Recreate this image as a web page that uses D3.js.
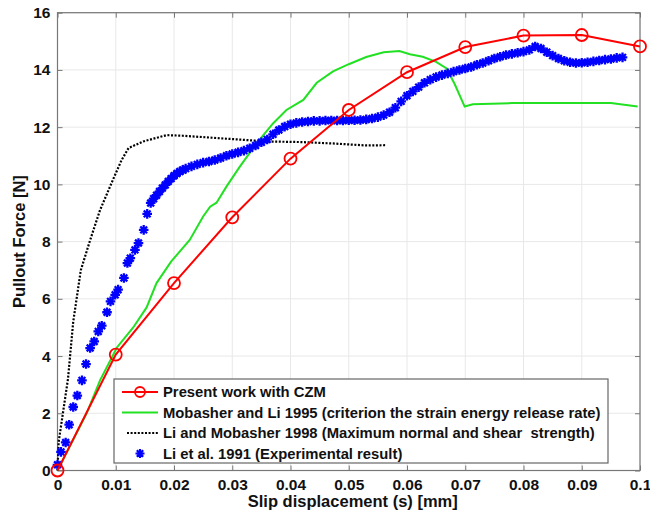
<!DOCTYPE html>
<html><head><meta charset="utf-8">
<script src="https://cdn.jsdelivr.net/npm/d3@7"></script>
<style>body{margin:0;background:#fff}svg{display:block}text{font-family:"Liberation Sans",Arial,sans-serif;font-weight:bold}</style>
</head><body><svg id="c" width="650" height="513"></svg>
<script>
const xTicks = [0,0.01,0.02,0.03,0.04,0.05,0.06,0.07,0.08,0.09,0.1];
const xTickLabels = ["0","0.01","0.02","0.03","0.04","0.05","0.06","0.07","0.08","0.09","0.1"];
const yTicks = [0,2,4,6,8,10,12,14,16];

const czmX = [0,0.01,0.02,0.03,0.04,0.05,0.06,0.07,0.08,0.09,0.1];
const czmY = [0,4.05,6.55,8.85,10.9,12.6,13.92,14.8,15.2,15.22,14.82];

const mobX = [0,0.002,0.005,0.0073,0.0102,0.013,0.0153,0.017,0.0195,0.0227,0.025,0.0262,0.0273,0.029,0.0313,0.0342,0.037,0.0393,0.0422,0.0445,0.0473,0.050,0.053,0.056,0.0587,0.0605,0.0627,0.065,0.0668,0.0682,0.0699,0.0713,0.078,0.095,0.0996];
const mobY = [0,0.8,2.0,3.15,4.3,5.0,5.7,6.55,7.3,8.06,8.88,9.22,9.36,9.92,10.62,11.44,12.13,12.6,12.95,13.55,13.95,14.2,14.45,14.62,14.66,14.55,14.46,14.28,14.05,13.5,12.72,12.8,12.84,12.84,12.72];

const lmX = [0,0.0002,0.001,0.0018,0.0027,0.004,0.0056,0.0073,0.0096,0.011,0.0122,0.0147,0.0187,0.0215,0.0244,0.0302,0.0359,0.0416,0.0473,0.053,0.0565];
const lmY = [0,1.0,2.1,3.2,5.2,7.0,8.05,9.1,10.2,10.85,11.27,11.5,11.72,11.7,11.66,11.58,11.5,11.48,11.43,11.36,11.37];

const expX = [0,0.0006,0.0014,0.002,0.0027,0.0034,0.0042,0.0049,0.0056,0.0063,0.007,0.0076,0.0085,0.0091,0.0099,0.0104,0.0114,0.012,0.0125,0.0133,0.0139,0.0148,0.0154,0.016,0.0165,0.017,0.0175,0.018,0.0185,0.019,0.0195,0.02,0.0205,0.021,0.0215,0.022,0.023,0.024,0.025,0.026,0.027,0.028,0.029,0.03,0.031,0.032,0.033,0.034,0.035,0.036,0.037,0.038,0.039,0.04,0.041,0.042,0.043,0.044,0.045,0.046,0.047,0.048,0.049,0.05,0.051,0.052,0.053,0.054,0.055,0.056,0.057,0.058,0.059,0.06,0.061,0.062,0.063,0.064,0.065,0.066,0.067,0.068,0.069,0.07,0.071,0.072,0.073,0.074,0.075,0.076,0.077,0.078,0.079,0.08,0.081,0.082,0.083,0.084,0.085,0.086,0.087,0.088,0.089,0.09,0.091,0.092,0.093,0.094,0.095,0.096,0.097];
const expY = [0.2,0.65,0.98,1.6,2.22,2.62,3.15,3.72,4.28,4.51,4.86,5.06,5.53,5.91,6.14,6.32,6.73,7.25,7.42,7.71,7.95,8.41,8.97,9.35,9.5,9.62,9.75,9.87,9.98,10.1,10.2,10.3,10.38,10.45,10.5,10.55,10.63,10.7,10.76,10.8,10.85,10.92,11.0,11.06,11.12,11.18,11.26,11.36,11.47,11.57,11.75,11.9,12.02,12.1,12.15,12.18,12.2,12.22,12.22,12.23,12.23,12.23,12.23,12.24,12.24,12.25,12.27,12.3,12.35,12.42,12.52,12.68,12.9,13.1,13.25,13.4,13.55,13.66,13.75,13.82,13.88,13.94,14.0,14.05,14.1,14.18,14.24,14.32,14.4,14.46,14.52,14.56,14.6,14.64,14.7,14.82,14.75,14.62,14.5,14.4,14.32,14.27,14.24,14.25,14.27,14.3,14.33,14.36,14.38,14.42,14.44];

const legendLabels = ["Present work with CZM","Mobasher and Li 1995 (criterion the strain energy release rate)","Li and Mobasher 1998 (Maximum normal and shear  strength)","Li et al. 1991 (Experimental result)"];

const svg = d3.select("#c");
const L=57.5, R=640, T=12.7, B=470.5;
const x = d3.scaleLinear().domain([0,0.1]).range([L,R]);
const y = d3.scaleLinear().domain([0,16]).range([B,T]);

// grid
const g = svg.append("g");
g.selectAll(".gx").data(xTicks).join("line").attr("x1",d=>x(d)).attr("x2",d=>x(d)).attr("y1",T).attr("y2",B).attr("stroke","#e8e8e8").attr("stroke-width",1);
g.selectAll(".gy").data(yTicks).join("line").attr("y1",d=>y(d)).attr("y2",d=>y(d)).attr("x1",L).attr("x2",R).attr("stroke","#e8e8e8").attr("stroke-width",1);

// axes
const xb = svg.append("g").attr("transform",`translate(0,${B})`).call(d3.axisBottom(x).tickValues(xTicks).tickFormat((d,i)=>xTickLabels[i]).tickSizeInner(-5).tickSizeOuter(0).tickPadding(8));
const xt = svg.append("g").attr("transform",`translate(0,${T})`).call(d3.axisTop(x).tickValues(xTicks).tickFormat("").tickSizeInner(-5).tickSizeOuter(0));
const yl = svg.append("g").attr("transform",`translate(${L},0)`).call(d3.axisLeft(y).tickValues(yTicks).tickSizeInner(-5).tickSizeOuter(0).tickPadding(7));
const yr = svg.append("g").attr("transform",`translate(${R},0)`).call(d3.axisRight(y).tickValues(yTicks).tickFormat("").tickSizeInner(-5).tickSizeOuter(0));
[xb,xt,yl,yr].forEach(a=>{a.select(".domain").remove();a.selectAll("line").attr("stroke","#777");a.selectAll("text").attr("font-size",15.5).attr("fill","#111").style("font-family",'"Liberation Sans",Arial,sans-serif').style("font-weight","bold");});
svg.append("rect").attr("x",L).attr("y",T).attr("width",R-L).attr("height",B-T).attr("fill","none").attr("stroke","#777").attr("stroke-width",1.2);

// lines
const line = (xs,ys)=>d3.line().x(i=>x(xs[i])).y(i=>y(ys[i]))(d3.range(xs.length));
svg.append("path").attr("d",line(mobX,mobY)).attr("fill","none").attr("stroke","#22e022").attr("stroke-width",2);
svg.append("path").attr("d",line(lmX,lmY)).attr("fill","none").attr("stroke","#000").attr("stroke-width",2.2).attr("stroke-dasharray","2,1.6");

// asterisk marker
function star(cx,cy,r){const a=r*0.7071;return `M${cx-r},${cy}L${cx+r},${cy}M${cx},${cy-r}L${cx},${cy+r}M${cx-a},${cy-a}L${cx+a},${cy+a}M${cx-a},${cy+a}L${cx+a},${cy-a}`;}
svg.append("g").selectAll("path").data(d3.range(expX.length)).join("path").attr("d",i=>star(x(expX[i]),y(expY[i]),4.8)).attr("stroke","#0000ff").attr("stroke-width",2.3).attr("fill","none");

svg.append("path").attr("d",line(czmX,czmY)).attr("fill","none").attr("stroke","#ff0000").attr("stroke-width",2);
svg.append("g").selectAll("circle").data(d3.range(czmX.length)).join("circle").attr("cx",i=>x(czmX[i])).attr("cy",i=>y(czmY[i])).attr("r",6).attr("fill","none").attr("stroke","#ff0000").attr("stroke-width",1.8);

// axis titles
svg.append("text").attr("x",(L+R)/2+4).attr("y",507).attr("text-anchor","middle").attr("font-size",16.5).attr("fill","#111").text("Slip displacement (s) [mm]");
svg.append("text").attr("transform",`translate(25,${(T+B)/2}) rotate(-90)`).attr("text-anchor","middle").attr("font-size",16.5).attr("fill","#111").text("Pullout Force [N]");

// legend
const lg = svg.append("g");
lg.append("rect").attr("x",114).attr("y",379).attr("width",494).attr("height",84).attr("fill","#fff").attr("stroke","#666").attr("stroke-width",1.2);
const rows=[392,412.5,433,453.5];
rows.forEach((ry,i)=>{
  lg.append("text").attr("x",163).attr("y",ry).attr("dy","0.35em").attr("font-size",14.8).attr("fill","#111").style("white-space","pre").text(legendLabels[i]);
});
lg.append("line").attr("x1",122).attr("x2",158).attr("y1",rows[0]).attr("y2",rows[0]).attr("stroke","#ff0000").attr("stroke-width",2);
lg.append("circle").attr("cx",140).attr("cy",rows[0]).attr("r",5).attr("fill","none").attr("stroke","#ff0000").attr("stroke-width",1.8);
lg.append("line").attr("x1",122).attr("x2",158).attr("y1",rows[1]).attr("y2",rows[1]).attr("stroke","#22e022").attr("stroke-width",2);
lg.append("line").attr("x1",127).attr("x2",158).attr("y1",rows[2]).attr("y2",rows[2]).attr("stroke","#000").attr("stroke-width",2).attr("stroke-dasharray","2,1.6");
lg.append("path").attr("d",star(140,rows[3],4.5)).attr("stroke","#0000ff").attr("stroke-width",2.2);
</script></body></html>
